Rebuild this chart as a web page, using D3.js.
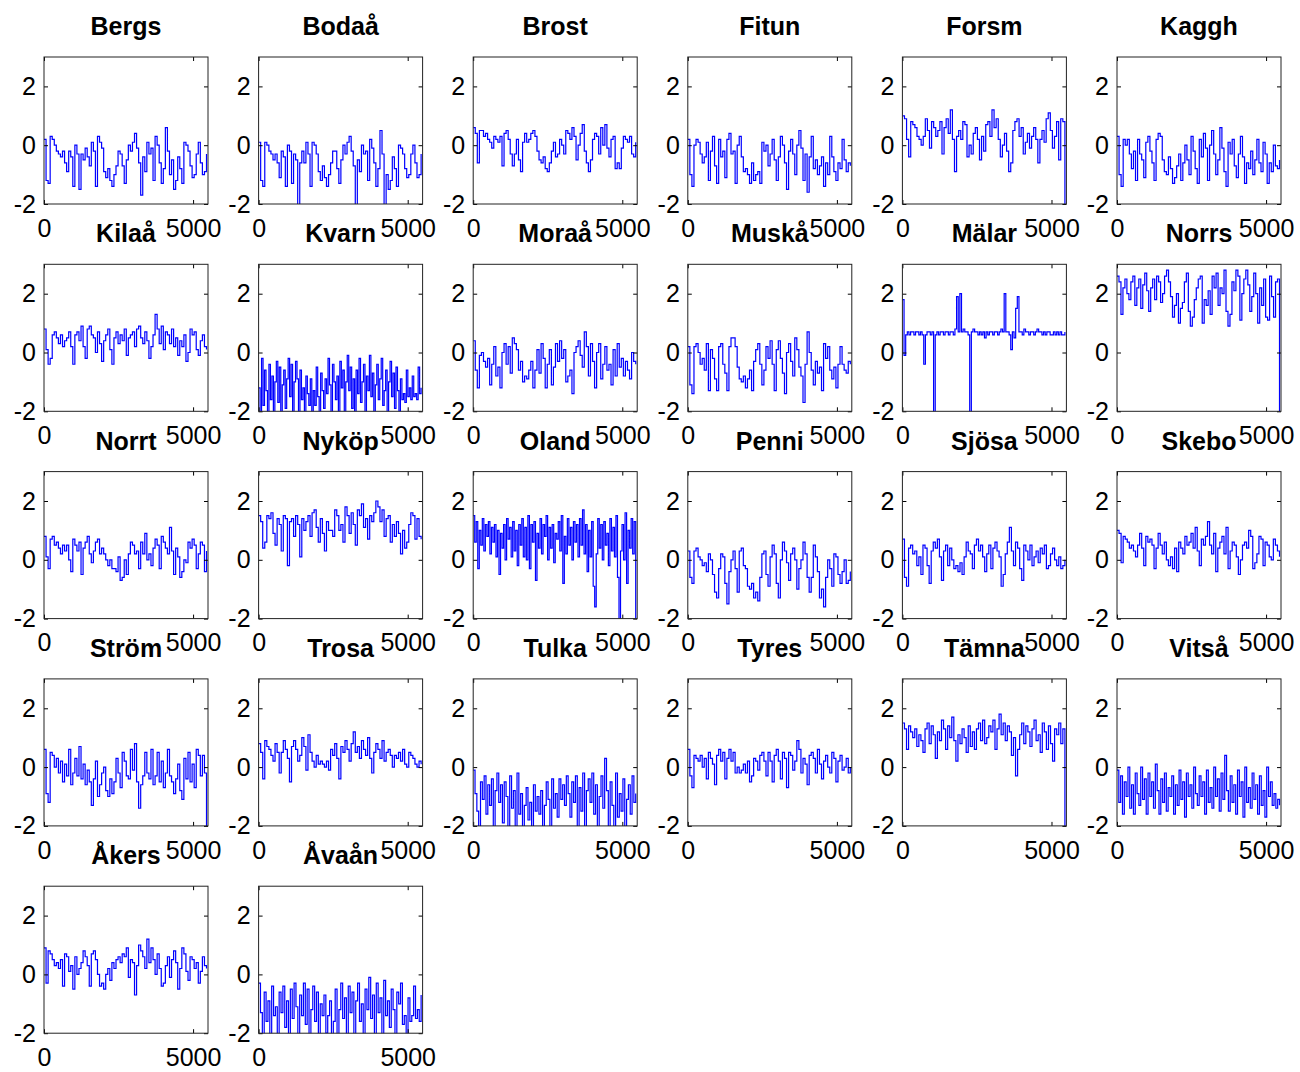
<!DOCTYPE html>
<html>
<head>
<meta charset="utf-8">
<script src="https://cdn.jsdelivr.net/npm/d3@7"></script>
<style>
  body { margin: 0; background: #fff; }
  svg text { font-family: "Liberation Sans", Arial, sans-serif; fill: #000; }
</style>
</head>
<body>
<div id="viz"></div>
<script>
// station names, one panel each
const stations = ["Bergs", "Bodaå", "Brost", "Fitun", "Forsm", "Kaggh",
  "Kilaå", "Kvarn", "Moraå", "Muskå", "Mälar", "Norrs",
  "Norrt", "Nyköp", "Oland", "Penni", "Sjösa", "Skebo",
  "Ström", "Trosa", "Tulka", "Tyres", "Tämna", "Vitså",
  "Åkers", "Åvaån"];

const xTicks = [0, 5000];
const yTicks = [-2, 0, 2];
const xLimits = [0, 5500];
const yLimits = [-2, 3];
const lastSample = 5450; // time of the last sample in every series

const bergs = [0.2,-1.2,-1.3,0.3,0.2,0.0,-0.2,-0.3,-0.4,-0.2,-0.6,-0.9,-0.2,-0.4,-1.4,0.0,-0.3,-1.5,-0.3,-0.5,-0.1,-0.4,-0.7,0.1,-0.2,-1.4,0.3,0.1,-0.1,-0.9,-1.1,-0.8,-1.2,-1.4,-1.0,-0.7,-0.2,-0.3,-0.7,-1.3,-0.5,0.0,-0.2,0.1,0.4,-0.1,-0.6,-1.7,-0.4,-0.9,0.1,-0.3,-0.1,-1.2,0.3,0.0,-0.6,-1.3,-0.8,0.6,-0.2,-1.0,-0.5,-1.5,-1.2,-0.4,-0.8,-1.3,0.1,0.0,-0.2,-0.7,-1.1,-1.0,-0.3,0.1,-0.6,-1.0,-0.9,-0.3];
const bodaa = [0.1,-1.2,-1.4,0.1,0.0,-0.2,-0.3,-0.5,-0.3,-0.6,-1.1,-0.2,-0.4,-1.4,0.0,-0.2,-1.3,-0.3,-0.5,-2.1,-0.6,-0.2,-0.6,0.1,-0.3,-1.4,0.1,0.0,-0.3,-0.9,-1.2,-0.7,-1.1,-1.4,-1.0,-0.6,-0.2,-0.2,-0.8,-1.3,-0.5,0.0,-0.3,0.1,0.3,-0.2,-0.7,-2.1,-0.5,-0.9,0.0,-0.3,-0.2,-1.2,0.2,-0.1,-0.6,-1.4,-0.8,0.5,-0.3,-2.1,-1.0,-1.5,-1.2,-0.4,-0.8,-1.4,0.0,-0.1,-0.3,-0.8,-1.1,-1.0,-0.3,0.0,-0.6,-1.1,-1.0,-0.3];
const brost = [0.6,0.4,-0.6,0.5,0.5,0.3,0.4,0.2,0.1,-0.1,0.3,0.2,0.1,0.3,-0.7,0.4,0.5,0.2,-0.3,-0.7,-0.3,0.2,-0.5,-0.9,0.1,0.4,0.1,0.2,0.4,0.5,0.3,-0.2,-0.5,-0.6,-0.4,-0.8,-0.9,-0.6,-0.2,0.1,-0.4,-0.3,0.2,0.0,-0.3,0.5,0.4,0.2,0.6,0.3,-0.5,0.0,0.4,0.7,-0.2,-0.6,-0.9,-0.5,0.2,0.4,0.3,-0.3,0.6,0.0,0.7,-0.1,-0.4,0.2,0.3,-0.8,-0.6,-0.8,-0.1,0.3,0.2,0.1,0.3,-0.3,-0.4,0.1];
const fitun = [0.2,-1.0,-1.4,0.0,0.2,0.1,-0.3,-0.6,-0.4,0.1,-1.2,-0.2,0.3,-0.7,-1.3,0.2,-0.4,-0.2,-1.1,0.2,0.4,-0.3,-0.2,-1.3,0.0,0.3,-0.4,-0.9,-0.8,-1.0,-1.3,-0.6,-1.2,-1.0,-0.9,-1.3,0.1,-0.2,0.0,-0.7,-0.3,0.2,-0.5,-1.2,-0.4,0.3,0.0,-0.6,-1.5,-0.2,0.2,-0.3,-1.0,0.0,0.5,-0.1,-1.2,-0.3,-1.6,-0.4,0.3,-0.8,-0.5,-1.0,-0.7,-0.4,-1.4,-0.6,-1.0,0.3,-0.4,-0.9,-1.2,-0.6,-0.8,0.2,-0.5,-0.9,-0.6,-0.7];
const forsm = [1.0,0.9,0.2,-0.4,0.8,0.7,0.6,0.3,0.2,0.0,0.3,0.9,0.5,-0.1,0.8,0.6,0.3,0.5,0.8,-0.3,0.6,0.9,0.4,1.2,0.2,-0.9,0.3,0.5,0.2,0.8,0.7,-0.4,0.0,-0.3,0.4,0.6,0.2,-0.5,0.3,-0.2,0.7,0.8,0.3,1.2,0.6,0.9,0.2,-0.4,0.0,0.4,-0.2,-0.9,-0.6,0.5,0.8,0.9,0.3,0.6,-0.3,0.1,0.4,-0.1,0.3,0.6,0.2,-0.6,0.2,0.5,0.1,0.9,1.1,0.5,-0.1,0.3,0.8,-0.5,0.9,0.8,-2.1];
const kaggh = [0.3,-1.0,-1.4,0.2,0.0,0.2,-0.3,-0.8,-0.2,-1.2,0.2,-0.3,-0.5,-1.1,0.1,0.3,-0.2,-0.6,-1.2,0.2,0.4,0.3,-0.5,-0.9,-1.0,-0.4,-0.8,-1.3,-1.1,-0.7,-0.3,-1.2,-0.6,0.0,-0.5,-1.0,0.3,-0.2,-0.8,-1.3,0.2,-0.4,0.4,-0.1,-1.2,0.0,0.5,-0.3,-1.0,-0.5,0.6,-0.1,-0.9,-1.4,0.1,-0.3,0.2,-0.7,-1.1,-0.3,0.3,-0.4,-1.3,-0.6,-0.8,-0.2,-1.0,-0.5,0.2,-0.6,-0.9,0.1,-0.3,-1.3,-0.6,-0.9,0.0,-0.7,-0.8,-0.5];
const kilaa = [0.8,0.1,-0.4,-0.2,0.6,0.7,0.5,0.3,0.6,0.2,0.4,0.5,0.7,0.2,-0.4,0.6,0.7,0.4,0.9,0.2,-0.2,0.8,0.9,0.6,0.5,0.0,0.7,0.3,-0.3,0.4,0.6,0.8,0.1,-0.4,0.5,0.7,0.3,0.6,0.4,0.8,-0.1,0.5,0.6,0.7,0.2,0.8,0.9,0.5,0.3,0.7,0.4,-0.2,0.2,0.6,1.3,0.8,0.3,0.9,0.1,0.7,0.6,0.3,0.8,0.2,0.5,-0.1,0.4,0.2,0.6,-0.3,0.0,0.8,0.6,0.7,0.1,-0.1,0.4,0.6,0.2,0.1];
const kvarn = [-1.2,-2.2,-0.2,-1.8,-0.6,-1.3,-2.2,-0.4,-1.6,-0.8,-2.2,-1.0,-0.3,-1.7,-0.5,-2.1,-1.1,-0.6,-1.9,-0.9,-0.2,-1.5,-0.4,-2.2,-1.0,-0.3,-0.9,-2.2,-0.6,-1.6,-1.2,-2.2,-0.8,-1.4,-1.8,-0.9,-2.2,-1.3,-1.8,-0.5,-1.5,-2.2,-0.7,-1.3,-1.9,-0.9,-1.4,-0.2,-1.1,-2.2,-0.4,-1.0,-1.6,-0.8,-2.1,-0.3,-1.2,-0.6,-2.2,-1.0,-0.1,-1.3,-0.5,-1.9,-0.9,-2.2,-0.6,-1.4,-0.2,-1.7,-1.0,-0.4,-2.2,-0.8,-1.3,-0.1,-1.5,-0.7,-2.2,-1.1,-0.4,-1.6,-0.9,-0.2,-1.8,-1.3,-0.6,-2.2,-1.0,-0.3,-1.5,-0.7,-1.9,-0.5,-1.3,-2.0,-0.9,-1.6,-1.4,-1.7,-0.6,-1.5,-1.2,-1.6,-0.8,-1.5,-1.4,-1.6,-0.5,-1.4,-1.2];
const moraa = [0.4,-0.6,-1.2,-0.1,0.0,-0.3,-0.5,-0.2,-1.1,-0.4,0.2,-0.8,-0.5,-1.2,0.0,0.3,-0.4,0.2,-0.7,0.5,0.3,0.1,-0.6,-0.3,-1.0,-0.8,-0.9,-0.6,-0.3,-1.2,-0.6,0.1,-0.7,0.3,-0.2,-1.2,-0.4,0.1,-1.1,-0.5,0.3,-0.3,0.4,-0.2,0.1,-1.0,-0.8,-0.6,-1.4,0.0,0.2,0.4,-0.1,-0.5,0.7,0.2,-0.8,0.3,-0.3,-1.2,0.0,0.3,-0.9,-0.4,0.2,-0.6,-0.4,-1.1,0.1,-0.8,0.3,-0.5,-0.2,-0.8,-0.3,-0.6,-0.9,0.0,-0.3,-0.4];
const muska = [0.2,-1.1,-1.4,0.2,0.3,0.0,-0.4,-0.2,-0.6,0.3,-1.3,0.1,-0.2,-0.9,-1.3,0.2,0.3,-0.4,-0.7,-1.3,0.2,0.5,0.5,0.2,-0.5,-0.9,-1.0,-0.8,-1.2,-0.9,-0.6,-1.3,-0.3,0.1,0.3,-0.4,-1.1,-0.6,0.2,-0.2,0.4,-0.4,-1.3,0.1,0.4,-0.2,-0.7,-1.4,0.0,0.3,-0.3,-0.8,0.5,0.1,-0.5,-0.8,-1.7,-0.4,0.7,0.0,-0.6,-1.1,-0.3,-0.7,-0.5,-1.3,0.3,-0.2,0.2,-0.6,-0.9,-0.5,-1.2,-0.4,0.2,-0.4,-0.6,-0.7,-0.3,-0.4];
const malar = [1.8,-0.1,0.6,0.7,0.6,0.7,0.7,0.6,0.7,0.7,0.6,0.7,0.6,-0.4,0.6,0.7,0.7,0.6,0.7,-2.2,0.6,0.7,0.6,0.7,0.7,0.6,0.7,0.7,0.6,0.7,0.7,0.6,0.8,1.9,0.7,2.0,0.7,0.8,0.7,0.7,0.6,-2.2,0.7,0.8,0.7,0.7,0.6,0.7,0.6,0.7,0.5,0.7,0.6,0.7,0.7,0.6,0.7,0.7,0.6,0.7,0.8,0.7,2.0,0.7,0.7,0.6,0.1,0.7,0.5,1.5,1.9,0.7,0.7,0.6,0.8,0.7,0.7,0.6,0.7,0.7,0.6,0.7,0.8,0.7,0.7,0.6,0.7,0.6,0.7,0.7,0.6,0.6,0.7,0.6,0.7,0.6,0.7,0.6,0.6,0.7];
const norrs = [2.6,2.4,1.3,2.2,2.5,2.0,1.8,2.4,2.6,1.6,2.2,2.5,1.5,2.3,2.7,2.1,1.4,2.2,2.5,1.8,2.6,2.4,1.7,2.0,2.6,2.8,2.4,1.9,1.2,1.6,2.0,1.0,1.5,1.7,2.4,2.7,1.4,0.9,1.2,1.8,2.2,2.5,2.6,1.0,1.8,1.6,2.1,1.3,2.6,2.2,2.7,1.6,2.2,2.0,2.8,1.4,0.9,1.3,2.4,2.1,2.8,2.6,1.1,2.0,2.5,2.8,2.3,1.4,1.9,2.7,2.0,1.0,2.2,1.6,2.5,1.2,1.1,2.6,1.9,1.2,2.4,2.5,-2.2];
const norrt = [0.8,0.1,-0.3,0.7,0.8,0.5,0.6,0.4,0.2,0.5,0.3,0.5,0.0,-0.4,0.7,0.5,0.3,0.6,-0.5,0.4,0.6,0.8,0.2,-0.1,0.3,0.6,0.7,0.2,0.4,0.2,0.0,-0.2,0.0,-0.3,-0.3,-0.4,0.1,-0.7,-0.6,0.0,-0.5,0.2,0.6,0.5,0.2,0.3,-0.3,0.6,0.2,0.9,0.0,0.2,-0.2,0.4,0.7,0.5,-0.3,0.8,0.6,0.4,0.2,1.1,0.3,-0.5,0.4,0.1,-0.6,-0.4,0.0,-0.1,0.6,0.4,0.7,0.5,-0.3,0.2,0.6,0.5,-0.4,0.3];
const nykop = [1.5,1.3,0.4,0.6,1.5,1.4,1.6,0.9,0.5,1.4,1.2,0.3,1.5,1.4,-0.2,1.3,1.4,0.8,1.5,1.2,0.1,1.4,1.0,1.3,1.5,0.8,1.6,1.7,1.1,0.6,1.4,0.9,0.3,1.3,1.0,1.0,0.8,1.7,1.5,1.0,1.2,0.6,1.8,1.5,0.9,1.6,1.2,0.5,1.7,1.5,1.9,1.1,1.4,0.7,1.5,1.3,1.6,2.0,1.8,1.3,1.7,0.8,1.4,1.5,0.6,1.2,0.8,1.3,0.9,0.2,1.0,0.4,0.6,1.2,1.6,1.5,0.7,1.4,0.8,0.7];
const oland = [1.5,0.6,1.3,-0.3,1.0,0.5,1.4,0.3,1.2,0.8,1.3,0.2,1.1,0.6,1.2,0.1,1.0,-0.5,0.9,0.4,1.2,0.0,1.4,0.7,1.1,0.1,1.3,0.3,1.0,-0.2,1.2,0.5,1.4,0.1,1.1,0.0,1.5,-0.3,1.2,0.6,1.3,-0.7,0.9,0.4,1.4,0.2,1.2,0.8,1.5,0.0,1.1,0.4,1.2,-0.1,0.9,0.7,1.3,0.3,1.5,-0.8,0.8,0.2,1.4,0.5,1.1,0.0,1.3,0.6,1.2,0.1,1.4,0.5,1.7,0.2,1.2,-0.4,1.0,0.1,1.3,-0.9,-1.6,0.2,1.4,0.4,1.2,0.0,1.3,0.5,0.9,-0.2,1.4,0.3,1.1,0.1,1.5,-0.6,-2.2,0.3,1.2,0.0,1.6,-0.8,1.0,0.4,1.4,0.2,1.3,-2.2];
const penni = [0.3,-0.6,-0.8,0.3,0.4,0.1,0.0,-0.2,-0.1,-0.4,0.2,0.0,-0.5,-1.1,-1.3,-0.3,0.2,0.1,-0.8,-1.5,-0.4,0.0,0.3,-0.3,-1.1,0.3,0.4,-0.2,-0.3,-0.9,-1.0,-0.8,-1.3,-1.1,-1.4,-0.6,0.2,0.3,-0.5,-0.9,0.1,0.5,0.2,-0.8,-1.3,0.0,0.6,0.3,-0.1,-0.7,0.2,0.4,0.0,-1.0,-0.3,0.0,0.6,0.2,-0.6,-1.1,-0.6,0.5,0.1,-0.4,-1.3,-1.0,-1.6,-0.6,0.0,-0.3,-0.9,0.2,0.1,-0.5,-0.8,-0.4,0.0,-0.8,-0.7,-0.4];
const sjosa = [0.7,-0.6,-0.9,0.4,0.5,0.2,0.3,-0.2,0.1,-0.5,0.5,0.4,-0.2,-0.8,0.3,0.6,0.4,0.7,0.1,-0.7,0.3,0.5,-0.2,0.4,0.0,-0.3,-0.2,-0.4,-0.1,-0.5,0.1,0.6,0.3,0.2,-0.3,0.5,0.7,0.3,0.5,0.1,-0.4,0.2,0.5,-0.3,0.4,0.6,0.3,0.1,-0.9,-0.5,0.2,0.6,1.1,0.3,-0.2,0.6,0.4,-0.3,-0.7,0.5,0.3,0.0,0.5,-0.2,0.1,0.3,-0.1,0.4,0.2,0.5,-0.3,-0.2,0.2,0.4,0.0,-0.2,0.1,-0.3,-0.2,0.0];
const skebo = [1.0,0.9,-0.1,0.8,0.7,0.6,0.4,0.5,0.3,0.1,0.5,0.9,0.4,-0.2,0.8,0.6,0.7,0.5,-0.3,0.4,0.9,0.5,0.2,0.6,0.0,-0.2,0.1,-0.3,0.4,-0.4,0.6,0.4,0.2,0.8,0.5,0.6,0.9,0.4,1.1,0.3,-0.2,0.7,0.5,0.8,1.3,0.5,0.2,0.9,-0.4,0.4,0.6,0.8,0.2,1.1,-0.3,0.3,0.6,0.5,0.1,-0.5,0.0,0.5,0.6,0.4,1.0,0.8,-0.3,-0.1,0.2,0.8,0.7,-0.2,0.6,0.5,0.1,0.0,0.7,0.5,0.3,0.1];
const strom = [0.6,-0.9,-1.2,0.5,0.4,0.0,0.3,-0.2,0.2,-0.5,0.1,-0.3,0.6,-0.6,-0.2,0.3,-0.3,0.7,-0.4,0.1,-0.6,-0.1,-0.5,-1.3,-0.4,0.2,-1.0,-0.6,-0.2,0.0,-0.8,-1.0,-0.4,-0.9,-0.5,0.3,-0.2,-0.7,0.5,0.2,-0.3,-0.4,0.6,-0.1,0.8,-0.5,-1.4,-0.6,-0.3,0.5,-0.2,-0.4,0.6,-0.6,-0.3,0.5,-0.5,0.2,-0.7,-0.2,0.6,-0.3,-0.5,-0.9,-0.4,0.1,-0.8,-1.1,0.3,-0.4,0.5,-0.5,0.1,-0.7,0.6,0.4,-0.3,0.4,-0.2,-2.2];
const trosa = [0.8,0.5,-0.4,0.9,0.7,0.6,0.4,0.2,0.8,0.5,-0.2,0.5,0.9,0.6,0.3,-0.5,0.7,0.9,0.6,0.2,0.4,1.0,0.7,-0.1,1.1,0.5,0.2,0.0,0.4,0.1,0.2,0.1,0.0,0.2,-0.1,0.6,0.4,0.8,0.3,-0.4,0.7,0.5,0.9,0.6,0.2,0.8,1.2,0.5,0.7,0.3,0.9,0.6,0.4,1.0,0.3,-0.2,0.5,0.8,0.6,0.3,0.9,0.2,0.5,0.6,0.4,0.0,0.4,0.3,0.5,0.2,0.6,0.1,0.0,0.5,0.4,0.3,0.1,0.0,0.2,0.1];
const tulka = [-0.1,-0.9,-1.5,-2.2,-0.5,-1.1,-0.3,-1.6,-0.6,-1.3,-0.4,-2.2,-0.8,-0.2,-1.2,-0.6,-1.9,-0.5,-1.0,-2.2,-0.3,-1.4,-0.8,-2.2,-0.2,-1.6,-0.9,-2.2,-1.3,-0.7,-1.8,-1.2,-2.2,-0.6,-1.5,-1.0,-1.6,-0.8,-2.2,-1.3,-0.5,-1.1,-2.2,-0.4,-1.4,-0.9,-1.7,-0.4,-1.1,-0.6,-1.3,-0.3,-0.9,-1.7,-0.5,-1.2,-0.3,-2.2,-0.7,-1.5,-0.2,-2.2,-0.8,-0.4,-1.2,-0.2,-1.6,-0.6,-2.2,-1.0,-0.3,-1.4,0.3,-0.8,-2.2,-0.5,-1.3,-2.2,-0.2,-1.7,-0.9,-1.5,-0.4,-2.2,-1.1,-0.6,-1.6,-0.3,-1.2,-0.9];
const tyres = [0.6,-0.3,-0.7,0.4,0.3,0.2,0.4,0.0,0.3,-0.4,0.5,0.3,0.1,-0.6,0.4,0.6,0.2,0.5,-0.4,0.3,0.6,0.2,0.5,-0.2,0.0,-0.2,-0.1,0.1,-0.2,0.2,-0.5,-0.3,0.3,0.2,-0.1,0.4,0.5,0.2,-0.3,0.5,0.2,-0.5,0.4,0.6,0.2,-0.4,0.5,0.3,-0.7,0.5,0.4,-0.1,0.2,0.9,0.6,-0.2,0.3,0.1,-0.6,0.4,0.5,0.3,-0.2,0.6,0.1,-0.4,0.2,0.4,0.0,-0.2,0.5,0.3,-0.5,0.2,0.4,-0.1,0.0,0.3,-0.2,0.0];
const tamna = [1.5,1.3,0.6,1.4,1.2,1.0,1.3,0.7,1.1,0.9,0.5,1.3,1.5,0.8,1.4,1.1,0.3,1.2,0.9,1.6,1.3,0.6,1.4,1.0,1.7,0.9,0.2,1.1,0.8,1.3,1.0,0.5,1.4,0.7,1.2,0.6,1.3,1.5,0.9,1.6,0.8,1.0,1.4,1.2,1.6,0.6,1.3,1.8,1.1,1.5,0.9,1.4,1.2,0.4,1.0,-0.3,0.6,1.1,1.5,0.8,1.4,1.2,0.7,1.3,1.6,0.9,1.1,0.5,1.5,1.2,0.6,1.4,0.8,0.2,1.3,1.1,1.5,0.8,1.3,-2.2];
const vitsa = [-0.1,-1.2,-0.3,-1.6,-0.5,-1.0,0.0,-1.4,-0.6,-1.6,-0.2,-0.9,-1.3,0.0,-1.1,-0.4,-1.6,-0.2,-1.0,-0.5,-1.4,0.1,-0.8,-1.6,-0.4,-1.2,-0.2,-1.5,-0.7,-1.0,-0.3,-1.6,-0.6,-1.3,-0.1,-1.1,-0.5,-1.7,-0.2,-1.0,-0.6,-1.4,0.0,-0.9,-1.3,-0.3,-1.0,-0.5,-1.6,-0.1,-1.2,-0.7,-1.4,0.0,-1.0,-0.4,-1.5,-0.2,-1.1,0.4,-0.8,-1.5,-0.3,-1.2,-0.6,-1.6,-0.1,-1.0,-0.5,-1.7,0.0,-1.2,-0.7,-1.4,-0.2,-1.1,-0.6,-1.6,-0.3,-1.3,-0.8,-1.7,0.0,-1.0,-0.5,-1.3,-0.9,-1.4,-1.1,-1.3];
const akers = [0.9,-0.3,0.8,0.7,0.5,0.3,0.4,0.2,0.5,-0.4,0.7,0.6,0.1,0.3,-0.5,0.6,0.0,0.2,0.4,0.8,0.6,0.3,-0.4,0.7,0.8,0.5,0.0,-0.4,-0.3,-0.5,0.0,0.2,-0.2,0.4,0.2,0.5,0.6,0.4,0.7,0.6,0.9,-0.1,0.5,0.4,-0.7,0.3,1.0,0.8,0.6,0.2,1.2,0.4,0.9,0.5,0.0,0.7,0.2,-0.4,-0.3,0.3,0.6,-0.1,0.5,0.8,0.4,-0.5,0.2,0.9,0.7,0.1,-0.2,0.6,0.5,0.2,0.4,-0.3,0.1,0.6,0.3,0.2];
const avaan = [-0.3,-1.3,-2.2,-0.6,-1.6,-0.9,-2.2,-0.4,-1.4,-1.1,-2.2,-0.6,-1.3,-0.4,-1.8,-0.9,-2.2,-0.5,-1.5,-0.3,-1.1,-2.2,-0.7,-1.4,-0.3,-1.7,-0.5,-2.2,-1.2,-0.4,-1.6,-0.6,-2.2,-1.0,-1.4,-0.7,-2.0,-1.4,-0.9,-2.2,-1.6,-0.5,-2.2,-1.2,-0.3,-1.5,-0.8,-2.2,-0.4,-1.3,-0.6,-2.2,-0.9,-0.3,-1.6,-1.0,-2.2,-0.5,-1.2,-0.1,-1.5,-0.7,-2.2,-0.3,-1.3,-0.8,-2.2,-0.2,-1.4,-0.9,-1.8,-0.5,-1.2,-2.2,-0.6,-1.0,-0.3,-1.7,-1.4,-2.2,-0.8,-1.6,-1.4,-0.4,-1.5,-1.2,-1.6,-0.7];

const series = [bergs, bodaa, brost, fitun, forsm, kaggh,
  kilaa, kvarn, moraa, muska, malar, norrs,
  norrt, nykop, oland, penni, sjosa, skebo,
  strom, trosa, tulka, tyres, tamna, vitsa,
  akers, avaan];

let w = 1300;
let h = 1072;
let cols = 6;
let panelW = 164;
let panelH = 147;
let left0 = 44;
let top0 = 57;
let colStep = 214.6;
let rowStep = 207.3;

let svg = d3.select("#viz")
  .append("svg")
  .attr("width", w)
  .attr("height", h)
  .style("background-color", "white");

let x = d3.scaleLinear().domain(xLimits).range([0, panelW]);
let y = d3.scaleLinear().domain(yLimits).range([panelH, 0]);

// plain hyphen for negatives, like the original figure
let tickText = d => String(d);

stations.forEach((name, k) => {
  let values = series[k];
  let step = lastSample / (values.length - 1);
  let col = k % cols;
  let row = Math.floor(k / cols);

  let g = svg.append("g")
    .attr("transform", `translate(${left0 + col * colStep},${top0 + row * rowStep})`);

  g.append("clipPath")
    .attr("id", "clip" + k)
    .append("rect")
    .attr("width", panelW)
    .attr("height", panelH);

  let line = d3.line()
    .x((d, i) => x(i * step))
    .y(d => y(d))
    .curve(d3.curveStepAfter);

  g.append("path")
    .datum(values)
    .attr("clip-path", `url(#clip${k})`)
    .attr("d", line)
    .attr("fill", "none")
    .attr("stroke", "#0000ff")
    .attr("stroke-width", 1.2);

  // left axis with labels, ticks pointing inward
  g.append("g")
    .call(d3.axisLeft(y).tickValues(yTicks).tickSizeInner(-4).tickSizeOuter(0).tickPadding(8).tickFormat(tickText))
    .call(a => a.select(".domain").remove())
    .call(a => a.selectAll("text").style("font-size", "25px"));

  g.append("g")
    .attr("transform", `translate(0,${panelH})`)
    .call(d3.axisBottom(x).tickValues(xTicks).tickSizeInner(-4).tickSizeOuter(0).tickPadding(15).tickFormat(tickText))
    .call(a => a.select(".domain").remove())
    .call(a => a.selectAll("text").style("font-size", "25px"));

  // right and top ticks, no labels
  g.append("g")
    .attr("transform", `translate(${panelW},0)`)
    .call(d3.axisRight(y).tickValues(yTicks).tickSizeInner(-4).tickSizeOuter(0).tickFormat(""))
    .call(a => a.select(".domain").remove());

  g.append("g")
    .call(d3.axisTop(x).tickValues(xTicks).tickSizeInner(-4).tickSizeOuter(0).tickFormat(""))
    .call(a => a.select(".domain").remove());

  g.append("rect")
    .attr("width", panelW)
    .attr("height", panelH)
    .attr("fill", "none")
    .attr("stroke", "#222")
    .attr("stroke-width", 1);

  g.append("text")
    .attr("x", panelW / 2)
    .attr("y", -22)
    .attr("text-anchor", "middle")
    .style("font-size", "25px")
    .style("font-weight", "bold")
    .text(name);
});
</script>
</body>
</html>
